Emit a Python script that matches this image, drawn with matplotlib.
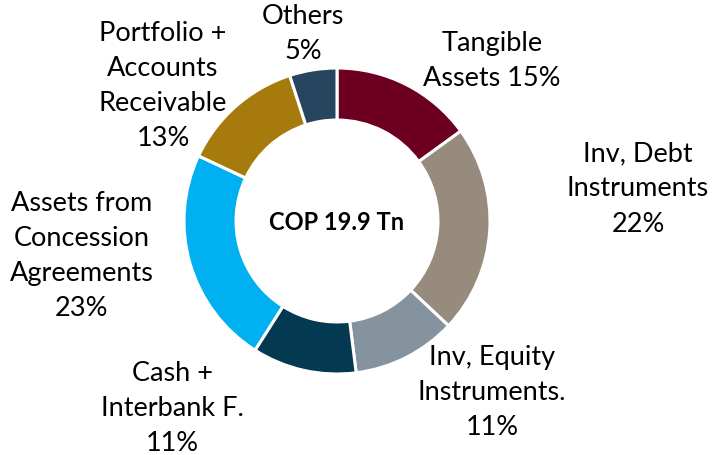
import matplotlib
matplotlib.use("Agg")
import matplotlib.pyplot as plt

# Asset composition (share of total, %)
categories = ["Tangible\nAssets", "Inv, Debt\nInstruments", "Inv, Equity\nInstruments.",
              "Cash +\nInterbank F.", "Assets from\nConcession\nAgreements",
              "Portfolio +\nAccounts\nReceivable", "Others"]
shares = [15, 22, 11, 11, 23, 13, 5]
colors = ["#6D0020", "#968B7C", "#85939E", "#033A52", "#00B0F0", "#A67A0C", "#284560"]
center_label = "COP 19.9 Tn"

# label anchor positions in pixels (x, y from top) - layout only
label_pos = [(492, 61), (638, 189), (492, 393), (172, 409), (82, 256), (163, 86), (303, 34)]
same_line_pct = [True, False, False, False, False, False, False]

W, H = 714, 456
fig = plt.figure(figsize=(W / 100, H / 100), dpi=100)
ax = fig.add_axes([0, 0, 1, 1])
plt.rcParams['font.family'] = ['Lato', 'DejaVu Sans']

cx, cy, r = 337, H - 222, 153
ax.pie(shares, colors=colors, startangle=90, counterclock=False,
       center=(cx, cy), radius=r,
       wedgeprops=dict(width=r * 0.34, edgecolor="white", linewidth=2.2))

for name, pct, (x, y), same in zip(categories, shares, label_pos, same_line_pct):
    txt = f"{name} {pct}%" if same else f"{name}\n{pct}%"
    ax.text(x, H - y, txt, ha="center", va="center", fontsize=19.5,
            linespacing=1.5, color="black")

ax.text(cx, cy, center_label, ha="center", va="center", fontsize=17,
        fontweight="bold", color="black")

ax.set_xlim(0, W)
ax.set_ylim(0, H)
ax.set_aspect("equal")
ax.axis("off")
fig.savefig("out.png", dpi=100)
